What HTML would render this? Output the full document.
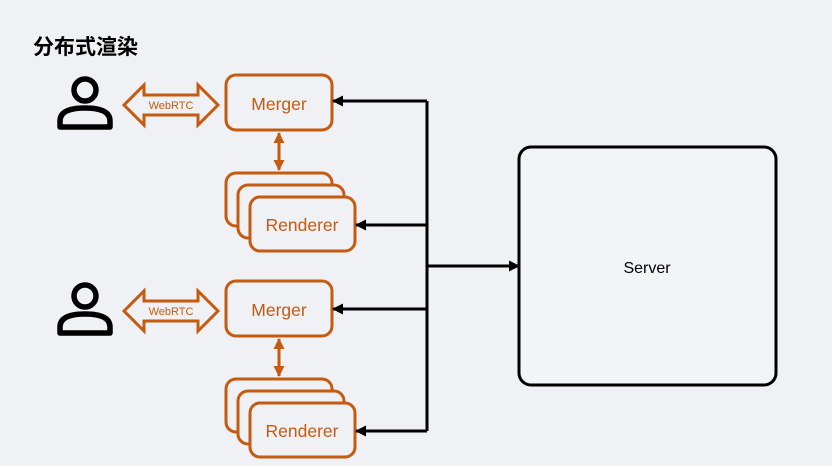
<!DOCTYPE html>
<html><head><meta charset="utf-8"><style>
body{margin:0;width:832px;height:466px;background:#f0f1f4;overflow:hidden;font-family:"Liberation Sans","Noto Sans CJK SC",sans-serif}
</style></head><body>
<svg width="832" height="466" xmlns="http://www.w3.org/2000/svg" style="position:absolute;left:0;top:0">
<defs>
<marker id="a" markerWidth="11" markerHeight="11" refX="10" refY="5.5" orient="auto" markerUnits="userSpaceOnUse"><path d="M0,0 L11,5.5 L0,11 Z" fill="#000"/></marker>
<marker id="o" markerWidth="11" markerHeight="11" refX="10" refY="5.5" orient="auto-start-reverse" markerUnits="userSpaceOnUse"><path d="M0,0 L11,5.5 L0,11 Z" fill="#c55a11"/></marker>
<g id="grp">
<g fill="none" stroke="#000" stroke-width="5.5">
<circle cx="85" cy="90" r="11"/>
<path d="M60,127 L60,121 Q60,108 85,108 Q110,108 110,121 L110,127 Z" stroke-linejoin="round"/>
</g>
<path d="M124,105 L144,85 L144,95 L198,95 L198,85 L218,105 L198,125 L198,115 L144,115 L144,125 Z" fill="none" stroke="#c55a11" stroke-width="3"/>
<text x="171" y="109" font-size="11" fill="#c55a11" text-anchor="middle">WebRTC</text>
<rect x="226" y="75" width="106" height="55" rx="10" fill="none" stroke="#c55a11" stroke-width="3"/>
<text x="279" y="110" font-size="17.5" fill="#c55a11" text-anchor="middle">Merger</text>
<line x1="279" y1="133" x2="279" y2="170" stroke="#c55a11" stroke-width="3" marker-start="url(#o)" marker-end="url(#o)"/>
<rect x="226" y="173" width="106" height="53" rx="10" fill="#f0f1f4" stroke="#c55a11" stroke-width="3"/>
<rect x="238" y="185" width="106" height="53" rx="10" fill="#f0f1f4" stroke="#c55a11" stroke-width="3"/>
<rect x="250" y="197" width="105" height="54" rx="10" fill="#f0f1f4" stroke="#c55a11" stroke-width="3"/>
<text x="302" y="231" font-size="17.5" fill="#c55a11" text-anchor="middle">Renderer</text>
</g>
</defs>
<text x="33" y="54" font-size="21" font-weight="bold" fill="#000">分布式渲染</text>
<use href="#grp"/>
<use href="#grp" y="206"/>
<g stroke="#000" stroke-width="3" fill="none">
<line x1="427" y1="101" x2="427" y2="431"/>
<line x1="427" y1="101" x2="333" y2="101" marker-end="url(#a)"/>
<line x1="427" y1="225" x2="356" y2="225" marker-end="url(#a)"/>
<line x1="427" y1="309" x2="333" y2="309" marker-end="url(#a)"/>
<line x1="427" y1="431" x2="356" y2="431" marker-end="url(#a)"/>
<line x1="427" y1="266" x2="519" y2="266" marker-end="url(#a)"/>
<rect x="519" y="147" width="257" height="238" rx="12" fill="#f3f4f6"/>
</g>
<text x="647" y="273" font-size="16" fill="#000" text-anchor="middle">Server</text>
</svg>
</body></html>
